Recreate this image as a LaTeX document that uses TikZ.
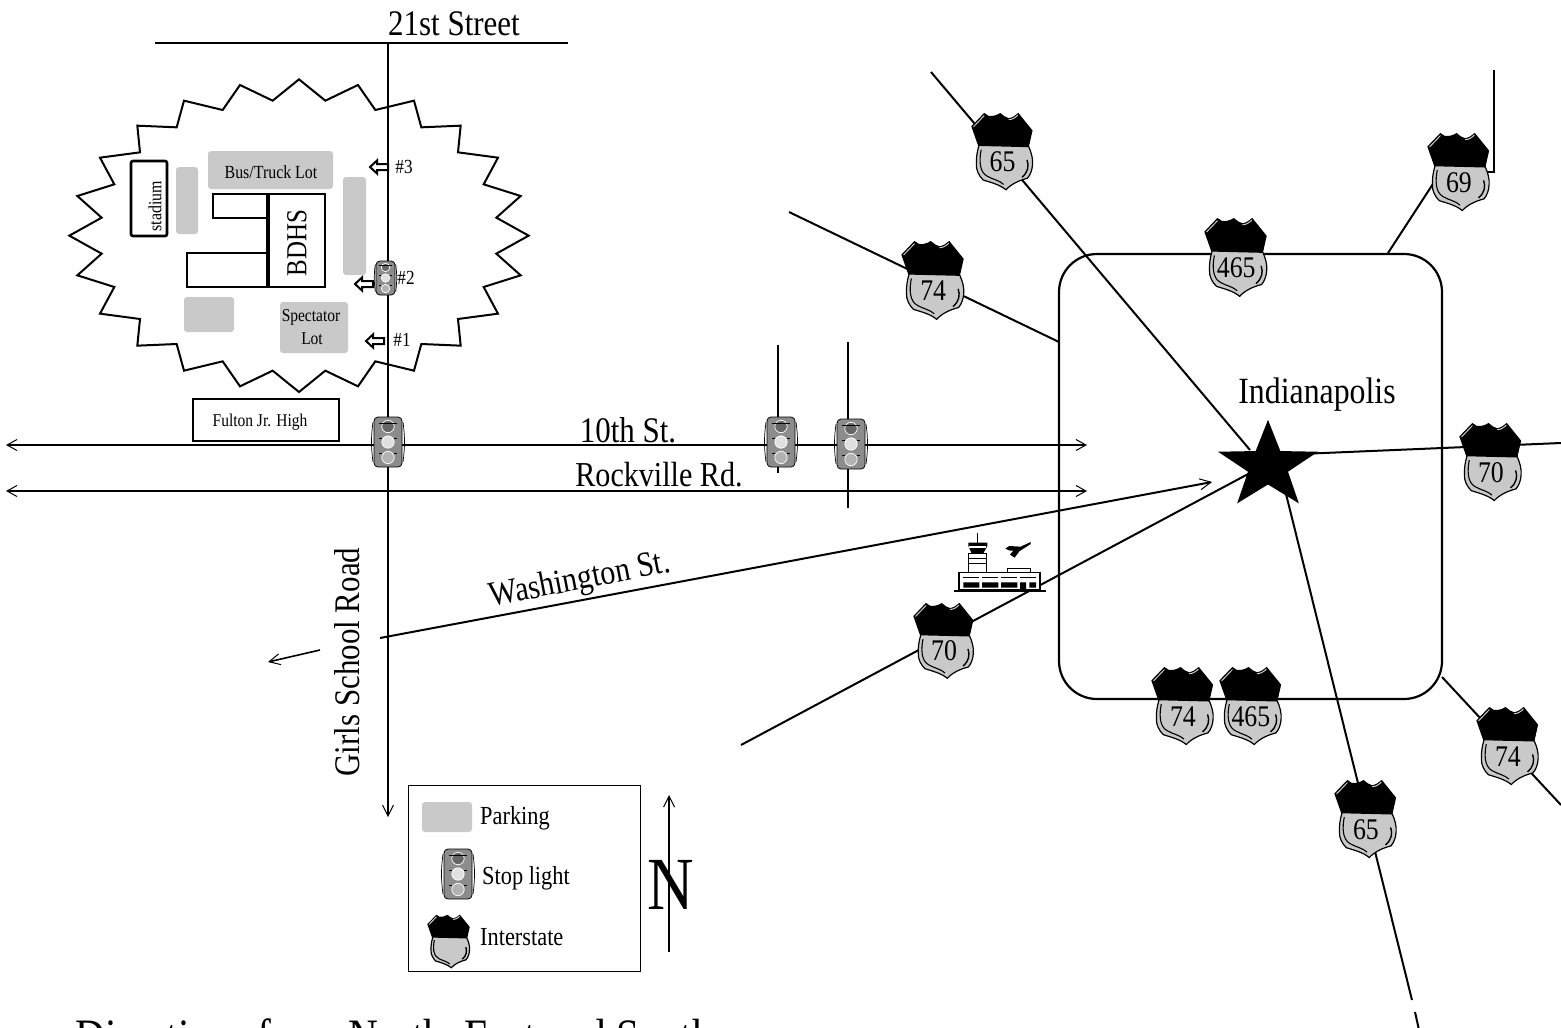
\documentclass[tikz,border=0pt]{standalone}
\usepackage{fontspec}
\setmainfont{Liberation Serif}[FakeStretch=0.86]
\usetikzlibrary{arrows.meta,shapes.geometric}
\newcommand{\fsz}[1]{\fontsize{#1}{#1}\selectfont}
\definecolor{lot}{gray}{0.79}
\tikzset{
  x=1pt,y=-1pt,
  road/.style={line width=2pt,black},
  thinroad/.style={line width=1.6pt,black},
  barb/.style={{Straight Barb[length=10pt,width=11pt,line width=1pt]}-{Straight Barb[length=10pt,width=11pt,line width=1pt]}},
  endbarb/.style={-{Straight Barb[length=11pt,width=11pt,line width=1pt]}},
  lotbox/.style={fill=lot,draw=none,rounded corners=3pt},
  bldg/.style={draw=black,line width=2.6pt,fill=white},
  entry/.style={draw=black,line width=2pt,fill=white},
  lab/.style={inner sep=0pt,text=black},
}
\newcommand{\shieldat}[5]{%
 \begin{scope}[shift={(#2,#3)},x=#4pt,y=-#4pt]
  \path[fill=lot,draw=black,line width=1.2pt] (12,0.7)--(16,3.3)..controls(20,4)and(24,3)..(27.7,0.7)..controls(30,3)and(33,5)..(36,5.7)..controls(40,5)and(43,3)..(45.3,0.7)--(58.7,17.3)--(55.3,32.3)..controls(58,38)and(60,45)..(59.3,50.7)..controls(59,56)and(57,61)..(54.3,64)..controls(46,66)and(38,70)..(33.3,75.3)..controls(27,70)and(18,68)..(11,65.7)..controls(7,62)and(4,56)..(4.3,50.7)..controls(4,44)and(5,38)..(6.7,32.3)--(0,13.3)--cycle;
  \fill[black] (12,0.7)--(16,3.3)..controls(20,4)and(24,3)..(27.7,0.7)..controls(30,3)and(33,5)..(36,5.7)..controls(40,5)and(43,3)..(45.3,0.7)--(58.7,17.3)--(55.3,33.5)--(6.7,32.3)--(0,13.3)--cycle;
  \draw[lot,line width=1pt] (1.5,13.5)--(12,2.5);
  \draw[lot,line width=1pt] (36,6.5)..controls(40,6.5)and(43,4)..(45,2);
  \draw[black,line width=1.1pt] (9,36)..controls(7,46)and(7,58)..(15,62)..controls(20,65)and(27,66)..(31,70);
  \draw[black,line width=1.4pt] (54,46)..controls(56,52)and(55,58)..(49,63);
  \node[lab,font=\fsz{30}] (#1) at (30,48) {#5};
 \end{scope}}
\newcommand{\stoplightat}[4]{%
 \begin{scope}[shift={(#2,#3)},x=#4pt,y=-#4pt]
  \node[draw=black,line width=.8pt,fill=black!45,rounded corners=4pt,minimum width=#4*28pt,minimum height=#4*50pt,inner sep=0pt] (#1) at (0,0) {};
  \draw[black,line width=.7pt] (-15,-20)..controls(-17,-5)and(-17,5)..(-15,20);
  \draw[black,line width=.7pt] (15,-20)..controls(17,-5)and(17,5)..(15,20);
  \path[draw=white,line width=.7pt,fill=black!60] (0,-15.5) circle (6.2);
  \path[draw=white,line width=.7pt,fill=black!12] (0,0) circle (6.2);
  \path[draw=white,line width=.7pt,fill=black!30] (0,15.5) circle (6.2);
  \draw[black,line width=.5pt] (-9,-19)--(9,-19) (-9,-4)--(-6,-4) (6,-4)--(9,-4) (-9,11)--(-6,11) (6,11)--(9,11);
 \end{scope}}
\newcommand{\entryarrow}[2]{%
 \path[entry,shift={(#1,#2)}] (0,0)--(7,-6.5)--(7,-3)--(18,-3)--(18,3)--(7,3)--(7,6.5)--cycle;}
\begin{document}
\begin{tikzpicture}
\useasboundingbox (0,0) rectangle (1561,1028);
\clip (0,0) rectangle (1561,1028);
\fill[white] (0,0) rectangle (1561,1028);
% free road ends
\coordinate (a21w) at (155,43);
\coordinate (a21e) at (568,43);
\coordinate (gsn) at (388,43);
\coordinate (gss) at (388,817);
\coordinate (t0w) at (6,445);
\coordinate (t0e) at (1087,445);
\coordinate (rkw) at (6,491);
\coordinate (rke) at (1087,491);
\coordinate (v1n) at (778,345);
\coordinate (v1s) at (778,473);
\coordinate (v2n) at (848,342);
\coordinate (v2s) at (848,508);
\coordinate (was) at (380,638);
\coordinate (wae) at (1212,482);
\coordinate (ww1) at (320,650);
\coordinate (ww2) at (268,662);
\coordinate (st) at (1268,466);
\coordinate (nw65) at (931,72);
\coordinate (in65) at (1250,450);
\coordinate (nw74) at (789,212);
\coordinate (bx74) at (1059,342);
\coordinate (bx69) at (1388,253);
\coordinate (en69) at (1442,170);
\coordinate (tp69) at (1494,70);
\coordinate (cr69) at (1494,172);
\coordinate (ed69) at (1478,172);
\coordinate (ea70) at (1561,443);
\coordinate (in70) at (1300,454);
\coordinate (sw70) at (741,745);
\coordinate (ie70) at (1250,473);
\coordinate (in65s) at (1285,490);
\coordinate (so65) at (1412,1000);
\coordinate (so65b) at (1415,1012);
\coordinate (so65c) at (1419,1030);
\coordinate (bx74s) at (1442,677);
\coordinate (se74) at (1561,805);
% site burst
\begin{scope}[shift={(60,60)},x=.33333pt,y=-.33333pt]
\draw[black,line width=2pt,fill=white] (28,527)--(125,473)--(52,408)--(163,373)--(120,293)--(240,277)--(232,197)--(350,202)--(372,122)--(488,150)--(540,75)--(638,122)--(717,58)--(796,122)--(894,75)--(946,150)--(1062,122)--(1084,202)--(1202,197)--(1194,277)--(1314,293)--(1271,373)--(1382,408)--(1309,473)--(1406,527)--(1309,581)--(1382,646)--(1271,681)--(1314,761)--(1194,777)--(1202,857)--(1084,852)--(1062,932)--(946,904)--(894,979)--(796,932)--(717,996)--(638,932)--(540,979)--(488,904)--(372,932)--(350,852)--(232,857)--(240,777)--(120,761)--(163,681)--(52,646)--(125,581)--cycle;
\end{scope}
% roads
\draw[road] (a21w)--(a21e);
\draw[road,endbarb] (gsn)--(gss);
\draw[thinroad,barb] (t0w)--(t0e);
\draw[thinroad,barb] (rkw)--(rke);
\draw[road] (v1n)--(v1s);
\draw[road] (v2n)--(v2s);
\draw[road,endbarb] (was)--(wae);
\draw[thinroad,endbarb] (ww1)--(ww2);
\draw[line width=2.2pt,rounded corners=38pt] (1059,254) rectangle (1442,699);
\draw[road] (nw65)--(in65);
\draw[road] (nw74)--(bx74);
\draw[road] (bx69)--(en69);
\draw[road] (tp69)--(cr69)--(ed69);
\draw[road] (in70)--(ea70);
\draw[road] (sw70)--(ie70);
\draw[road] (in65s)--(so65);
\draw[road] (so65b)--(so65c);
\draw[road] (bx74s)--(se74);
\node[star,star points=5,star point ratio=2.5,fill=black,draw=none,minimum size=105pt,inner sep=0pt,yscale=.88] (capital) at (st) {};
% site contents
\path[lotbox] (208,151) rectangle (333,189);
\node[lab,font=\fsz{18.5}] (lbus) at (271,172) {Bus/Truck Lot};
\path[lotbox] (176,167) rectangle (198,234);
\path[lotbox] (343,177) rectangle (366,275);
\path[lotbox] (184,297) rectangle (234,332);
\path[lotbox] (280,302) rectangle (348,353);
\node[lab,font=\fsz{18}] (lspec) at (311,317) {Spectator};
\node[lab,font=\fsz{18}] (llot) at (312,339) {Lot};
\draw[bldg,rounded corners=2pt] (131,161) rectangle (167,236);
\node[lab,font=\fsz{18.5},rotate=90] (lstad) at (155,206) {stadium};
\draw[bldg] (213,194) rectangle (268,218);
\draw[bldg] (187,253) rectangle (268,287);
\draw[bldg] (268,194) rectangle (325,287);
\draw[black,line width=3.6pt] (268,194)--(268,287);
\node[lab,font=\fsz{29},rotate=90] (lbdhs) at (297,243) {BDHS};
\draw[bldg] (193,399) rectangle (339,441);
\node[lab,font=\fsz{18}] (lful) at (260,422) {Fulton Jr. High};
\entryarrow{370}{167}
\entryarrow{355}{284}
\entryarrow{366}{341}
\node[lab,font=\fsz{20}] (l3) at (404,167) {\#3};
\node[lab,font=\fsz{20}] (l2) at (406,278) {\#2};
\node[lab,font=\fsz{20}] (l1) at (402,340) {\#1};
% stop lights
\stoplightat{sl0}{385.5}{278}{0.68}
\stoplightat{sl1}{388}{442}{1}
\stoplightat{sl2}{781}{442}{1}
\stoplightat{sl3}{851}{444}{1}
% street labels
\node[lab,font=\fsz{36}] (l21) at (454,24) {21st Street};
\node[lab,font=\fsz{36}] (l10) at (628,430) {10th St.};
\node[lab,font=\fsz{35}] (lrv) at (659,475) {Rockville Rd.};
\node[lab,font=\fsz{36},rotate=90] (lgs) at (347,662) {Girls School Road};
\node[lab,font=\fsz{35},rotate=11] (lwa) at (580,581) {Washington St.};
\node[lab,font=\fsz{37}] (lind) at (1317,395) {Indianapolis};
% airport
\begin{scope}[shift={(900,520)},x=.33333pt,y=-.33333pt]
\draw[black,line width=1.5pt,fill=white] (177,158) rectangle (420,210);
\draw[black,line width=1.2pt] (322,145) rectangle (392,158);
\draw[black,line width=1.5pt] (233,40)--(233,68);
\draw[black,line width=1.5pt,fill=white] (205,100) rectangle (260,158);
\draw[black,line width=1.2pt] (205,115)--(260,115) (205,130)--(260,130);
\fill[black] (205,68)--(262,68)--(262,78)--(250,100)--(215,100)--(205,78)--cycle;
\fill[white] (208,79) rectangle (258,84);
\draw[black,line width=1.2pt] (190,173)--(238,173) (246,173)--(295,173) (303,173)--(352,173) (360,173)--(408,173);
\fill[black] (190,187) rectangle (238,203) (246,187) rectangle (295,203) (303,187) rectangle (352,203) (360,187) rectangle (378,210) (388,187) rectangle (408,203);
\draw[black,line width=2pt] (162,213)--(437,213);
\fill[black] (392,66)--(362,80)--(328,78)--(316,86)--(330,92)--(340,92)--(330,104)--(344,113)--(358,94)--(392,72)--cycle;
\end{scope}
% interstate shields
\shieldat{i65a}{972}{113}{1.02}{65}
\shieldat{i74a}{902}{241}{1.04}{74}
\shieldat{i465a}{1205}{218}{1.04}{465}
\shieldat{i69}{1428}{133}{1.03}{69}
\shieldat{i70a}{1460}{423}{1.03}{70}
\shieldat{i70b}{914}{603}{1}{70}
\shieldat{i74b}{1152}{667}{1.03}{74}
\shieldat{i465b}{1220}{667}{1.03}{465}
\shieldat{i74c}{1477}{707}{1.03}{74}
\shieldat{i65b}{1335}{780}{1.03}{65}
% legend
\draw[black,line width=1pt] (408,785) rectangle (640,971);
\path[lotbox] (422,802) rectangle (472,832);
\node[lab,font=\fsz{26},anchor=west] (kp) at (480,818) {Parking};
\stoplightat{ks}{458}{874}{1}
\node[lab,font=\fsz{26},anchor=west] (ks2) at (482,878) {Stop light};
\shieldat{ki}{428}{915}{.7}{}
\node[lab,font=\fsz{26},anchor=west] (ki2) at (480,937) {Interstate};
% north
\coordinate (ns) at (669,952);
\coordinate (nn) at (669,795);
\draw[road,endbarb] (ns)--(nn);
\node[lab,font=\fsz{75}] (ln) at (671,885) {N};
% caption, cut by the page edge
\node[lab,font=\fsz{48},anchor=base west] (cap) at (75,1052) {Directions from North, East and South};
\end{tikzpicture}
\end{document}
